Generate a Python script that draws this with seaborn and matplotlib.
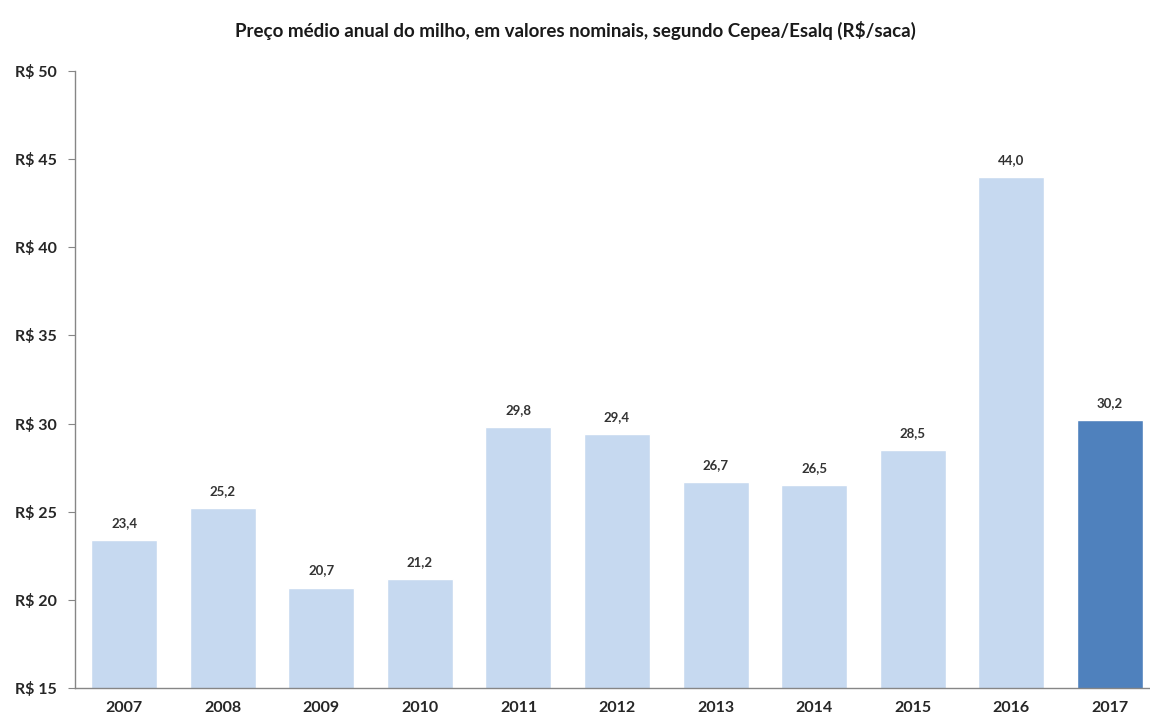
import matplotlib
matplotlib.use("Agg")
import matplotlib.pyplot as plt
import seaborn as sns
import pandas as pd
import numpy as np

years = ["2007", "2008", "2009", "2010", "2011", "2012", "2013", "2014", "2015", "2016", "2017"]
prices = [23.4, 25.2, 20.7, 21.2, 29.8, 29.4, 26.7, 26.5, 28.5, 44.0, 30.2]
bar_colors = ["#C6D9F0"] * 10 + ["#4F81BD"]
title = "Preço médio anual do milho, em valores nominais, segundo Cepea/Esalq (R$/saca)"
yticks = [15, 20, 25, 30, 35, 40, 45, 50]

sns.set_style("white")
plt.rcParams['font.family'] = ['Lato', 'DejaVu Sans']

df = pd.DataFrame({"ano": years, "preco": prices})

fig = plt.figure(figsize=(11.5, 7.22), dpi=100)
ax = fig.add_axes([75/1150, 1 - 688/722, (1159 - 75)/1150, (688 - 71)/722])

sns.barplot(data=df, x="ano", y="preco", hue="ano", palette=bar_colors,
            legend=False, width=0.67, ax=ax, saturation=1)

ax.set_ylim(15, 50)
ax.set_xlim(-0.5, len(years) - 0.5)
ax.set_yticks(yticks)
ax.set_yticklabels([f"R$ {v}" for v in yticks], fontsize=11.5, fontweight="bold", color="#262626")
ax.set_xticks(range(len(years)))
ax.set_xticklabels(years, fontsize=11.5, fontweight="bold", color="#262626")
ax.set_xticks(np.arange(-0.5, len(years), 1.0), minor=True)
ax.tick_params(axis="x", which="major", length=0, pad=9)
ax.tick_params(axis="x", which="minor", length=5, color="#868686", direction="out")
ax.tick_params(axis="y", which="major", length=5, color="#868686", direction="out", pad=8, left=True)
ax.set_xlabel("")
ax.set_ylabel("")

for s in ["top", "right"]:
    ax.spines[s].set_visible(False)
for s in ["left", "bottom"]:
    ax.spines[s].set_color("#868686")
    ax.spines[s].set_linewidth(1)

for i, v in enumerate(prices):
    ax.annotate(f"{v:.1f}".replace(".", ","), (i, v), xytext=(0, 8), textcoords="offset points",
                ha="center", va="bottom", fontsize=9.5, fontweight="bold", color="#333333")

fig.text(575/1150, 1 - 30/722, title, ha="center", va="center", fontsize=13.5,
         fontweight="bold", color="#1a1a1a")

fig.savefig("out.png", dpi=100)
